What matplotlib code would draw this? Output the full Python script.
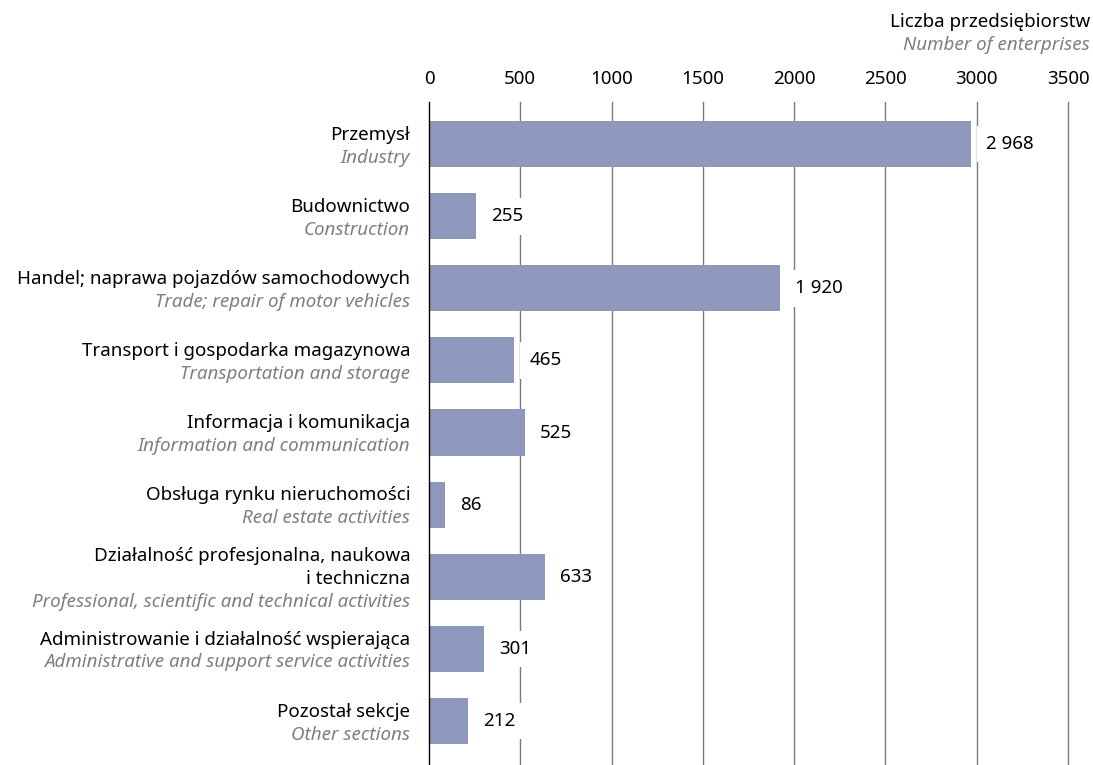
import numpy as np
import matplotlib.pyplot as plt

plt.rcParams['font.family'] = ['Noto Sans', 'DejaVu Sans']

# data
labels_pl = [
    "Przemysł",
    "Budownictwo",
    "Handel; naprawa pojazdów samochodowych",
    "Transport i gospodarka magazynowa",
    "Informacja i komunikacja",
    "Obsługa rynku nieruchomości",
    "Działalność profesjonalna, naukowa\ni techniczna",
    "Administrowanie i działalność wspierająca",
    "Pozostał sekcje",
]
labels_en = [
    "Industry",
    "Construction",
    "Trade; repair of motor vehicles",
    "Transportation and storage",
    "Information and communication",
    "Real estate activities",
    "Professional, scientific and technical activities",
    "Administrative and support service activities",
    "Other sections",
]
values = [2968, 255, 1920, 465, 525, 86, 633, 301, 212]
xticks = [0, 500, 1000, 1500, 2000, 2500, 3000, 3500]

bar_color = "#8E98BC"
grid_color = "#7a7a7a"
en_color = "#7f7f7f"
fs = 13.5

fig = plt.figure(figsize=(10.93, 7.65), dpi=100)
ax = fig.add_axes([429 / 1093, 0.0, 639 / 1093, (765 - 102) / 765])

y = np.arange(len(values))
ax.barh(y, values, height=0.64, color=bar_color, zorder=2)

ax.set_xlim(0, 3500)
ax.set_ylim(8.61, -0.583)

# gridlines
for t in xticks[1:]:
    ax.axvline(t, color=grid_color, linewidth=1.0, zorder=1, clip_on=False)
ax.axvline(0, color="black", linewidth=1.0, zorder=3, clip_on=False)

for s in ax.spines.values():
    s.set_visible(False)

ax.xaxis.tick_top()
ax.set_xticks(xticks)
ax.set_xticklabels([str(t) for t in xticks], fontsize=fs)
ax.tick_params(axis="x", length=0, pad=10)
ax.set_yticks([])

# value labels
for i, v in enumerate(values):
    txt = f"{v:,}".replace(",", " ")
    ax.annotate(txt, xy=(v, i), xytext=(11, 0), textcoords="offset points",
                ha="left", va="center", fontsize=fs, color="black", zorder=4,
                bbox=dict(boxstyle="square,pad=0.5", facecolor="white", edgecolor="none"))

# category labels
pitch = 16.5
for i, (pl, en) in enumerate(zip(labels_pl, labels_en)):
    lines = pl.split("\n")
    n = len(lines) + 1
    c = (n - 1) / 2
    for k, line in enumerate(lines):
        ax.annotate(line, xy=(0, i), xytext=(-13.5, (c - k) * pitch - 1.5),
                    textcoords="offset points", ha="right", va="center",
                    fontsize=fs, color="black", annotation_clip=False)
    ax.annotate(en, xy=(0, i), xytext=(-13.5, (c - len(lines)) * pitch - 1.5),
                textcoords="offset points", ha="right", va="center",
                fontsize=fs, color=en_color, style="italic", annotation_clip=False)

# axis title
fig.text(1090 / 1093, 1 - 22 / 765, "Liczba przedsiębiorstw", ha="right", va="center",
         fontsize=fs, color="black")
fig.text(1090 / 1093, 1 - 45 / 765, "Number of enterprises", ha="right", va="center",
         fontsize=fs, color=en_color, style="italic")

fig.savefig("out.png", dpi=100)
